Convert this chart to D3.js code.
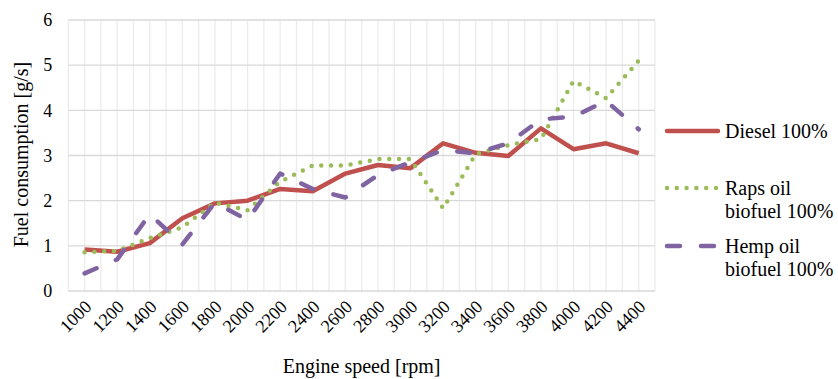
<!DOCTYPE html>
<html>
<head>
<meta charset="utf-8">
<script src="https://cdn.jsdelivr.net/npm/d3@7"></script>
<style>
  html, body { margin: 0; padding: 0; background: #ffffff; }
  svg { display: block; }
  text { font-family: "Liberation Serif", "Times New Roman", serif; fill: #000; }
</style>
</head>
<body>
<svg id="chart" width="838" height="379"></svg>
<script>
// Engine speed categories [rpm]
const speeds = [1000, 1200, 1400, 1600, 1800, 2000, 2200, 2400, 2600, 2800,
                3000, 3200, 3400, 3600, 3800, 4000, 4200, 4400];

// Fuel consumption [g/s] for each fuel
const diesel = [0.92, 0.87, 1.06, 1.61, 1.94, 2.00, 2.26, 2.21, 2.60, 2.79,
                2.72, 3.27, 3.06, 2.99, 3.60, 3.14, 3.27, 3.05];
const rapsOil = [0.86, 0.89, 1.17, 1.41, 1.96, 1.79, 2.42, 2.78, 2.78, 2.92,
                 2.92, 1.83, 3.03, 3.23, 3.36, 4.65, 4.27, 5.10];
const hempOil = [0.39, 0.70, 1.70, 1.03, 1.96, 1.57, 2.60, 2.26, 2.07, 2.57,
                 2.85, 3.12, 3.05, 3.27, 3.80, 3.86, 4.21, 3.58];

const yTicks = [0, 1, 2, 3, 4, 5, 6];

const seriesNames = ["Diesel 100%", "Raps oil\nbiofuel 100%", "Hemp oil\nbiofuel 100%"];

const series = [
  { name: seriesNames[0], values: diesel,  color: "#c0504d", dash: null },
  { name: seriesNames[1], values: rapsOil, color: "#9bbb59", dash: "0 9.8" },
  { name: seriesNames[2], values: hempOil, color: "#8064a2", dash: "13 21" }
];

const svg = d3.select("#chart");
const plot = { left: 68.3, right: 655, top: 20, bottom: 291 };

const x = d3.scaleBand()
  .domain(speeds)
  .range([plot.left, plot.right])
  .paddingInner(0)
  .paddingOuter(0);

const y = d3.scaleLinear()
  .domain([0, 6])
  .range([plot.bottom, plot.top]);

const cx = d => x(d) + x.bandwidth() / 2;

// Vertical gridlines at category boundaries and centres
const grid = svg.append("g");
const vLines = [];
speeds.forEach(s => { vLines.push(x(s)); vLines.push(cx(s)); });
vLines.push(plot.right);
grid.selectAll("line.v").data(vLines).join("line")
  .attr("class", "v")
  .attr("x1", d => d).attr("x2", d => d)
  .attr("y1", plot.top).attr("y2", plot.bottom)
  .attr("stroke", "#ececec").attr("stroke-width", 1.3);

// Horizontal gridlines
grid.selectAll("line.h").data(yTicks).join("line")
  .attr("class", "h")
  .attr("x1", plot.left).attr("x2", plot.right)
  .attr("y1", d => y(d)).attr("y2", d => y(d))
  .attr("stroke", "#d9d9d9").attr("stroke-width", 1.3);

// Y axis labels
const yAxis = d3.axisLeft(y).tickValues(yTicks).tickSize(0).tickPadding(16).tickFormat(d3.format("d"));
const yg = svg.append("g").attr("transform", `translate(${plot.left},0)`).call(yAxis);
yg.select(".domain").remove();
yg.selectAll("text").attr("font-size", 18).attr("font-family", "Liberation Serif").attr("fill", "#000");

// X axis labels, rotated
const xAxis = d3.axisBottom(x).tickSize(0).tickPadding(0);
const xg = svg.append("g").attr("transform", `translate(0,${plot.bottom})`).call(xAxis);
xg.select(".domain").remove();
xg.selectAll("text")
  .attr("font-size", 18).attr("font-family", "Liberation Serif").attr("fill", "#000")
  .attr("text-anchor", "end")
  .attr("dy", null).attr("y", 0)
  .attr("transform", "translate(8,17) rotate(-45)");

// Axis titles
svg.append("text")
  .attr("x", (plot.left + plot.right) / 2).attr("y", 373)
  .attr("text-anchor", "middle").attr("font-size", 20)
  .text("Engine speed [rpm]");

svg.append("text")
  .attr("transform", `translate(28,${(plot.top + plot.bottom) / 2 - 1}) rotate(-90)`)
  .attr("text-anchor", "middle").attr("font-size", 20)
  .text("Fuel consumption [g/s]");

// Series lines
const line = d3.line().x((d, i) => cx(speeds[i])).y(d => y(d));
svg.append("g").selectAll("path").data(series).join("path")
  .attr("d", d => line(d.values))
  .attr("fill", "none")
  .attr("stroke", d => d.color)
  .attr("stroke-width", 4.5)
  .attr("stroke-linecap", d => d.dash ? "round" : "butt")
  .attr("stroke-linejoin", "round")
  .attr("stroke-dasharray", d => d.dash);

// Legend
const legendRows = [131, 188, 246];
const lg = svg.append("g");
series.forEach((s, i) => {
  const ly = legendRows[i];
  lg.append("line")
    .attr("x1", 667).attr("x2", 718).attr("y1", ly).attr("y2", ly)
    .attr("stroke", s.color).attr("stroke-width", 4.5)
    .attr("stroke-linecap", "round")
    .attr("stroke-dasharray", s.dash);
  const t = lg.append("text").attr("x", 725).attr("y", ly + 7).attr("font-size", 20);
  s.name.split("\n").forEach((part, k) => {
    t.append("tspan").attr("x", 725).attr("dy", k === 0 ? 0 : 23).text(part);
  });
});
</script>
</body>
</html>
